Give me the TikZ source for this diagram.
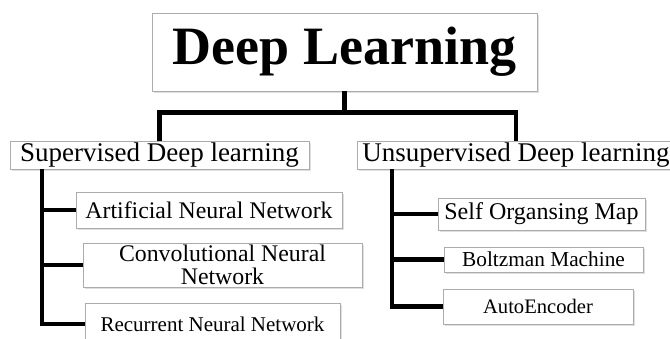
\documentclass[tikz,border=0pt]{standalone}
\usepackage{fontspec}
\setmainfont{Liberation Serif}
\usetikzlibrary{positioning,shadows}

\begin{document}
\begin{tikzpicture}[
  x=1pt,y=-1pt,
  box/.style={rectangle,draw=gray!65,line width=0.8pt,fill=white,inner sep=0pt,align=center,
    drop shadow={shadow xshift=1.5pt,shadow yshift=-2pt,opacity=0.25}},
  titlebox/.style={box,minimum width=385pt,minimum height=78pt,font=\fontsize{54}{54}\selectfont\bfseries},
  groupbox/.style={box,minimum height=28pt,font=\fontsize{27}{27}\selectfont},
  leafbox/.style={box,font=\fontsize{#1}{23}\selectfont},
  conn/.style={line width=4.5pt,black}
]
\useasboundingbox (0,0) rectangle (670,338);

% Root
\node[titlebox] (root) at (344.5,52) {Deep Learning};

% Groups
\node[groupbox,minimum width=299pt] (sup) at (159.5,155) {Supervised Deep learning};
\node[groupbox,minimum width=318pt] (unsup) at (516,155) {Unsupervised Deep learning};

% Supervised methods
\node[leafbox=23.8,minimum width=266pt,minimum height=36pt] (ann) at (209,210) {Artificial Neural Network};
\node[leafbox=23.8,minimum width=279pt,minimum height=44pt] (cnn) at (222.5,265) {Convolutional Neural\\Network};
\node[leafbox=21,minimum width=255pt,minimum height=42pt] (rnn) at (212.5,324) {Recurrent Neural Network};

% Unsupervised methods
\node[leafbox=24,minimum width=207pt,minimum height=32pt] (som) at (541.5,214) {Self Organsing Map};
\node[leafbox=21.3,minimum width=199pt,minimum height=25pt] (bm) at (543.5,259.5) {Boltzman Machine};
\node[leafbox=20.6,minimum width=190pt,minimum height=35pt] (ae) at (538,306.5) {AutoEncoder};

% Spines
\coordinate (lspine) at (42,169);
\coordinate (rspine) at (392,169);

% Connectors
\draw[conn] (root.south) -- ++(0,21) coordinate (bar);
\draw[conn] (sup.north) |- (bar) -| (unsup.north);
\draw[conn] (lspine) |- (rnn.west);
\draw[conn] (lspine |- ann.west) -- (ann.west);
\draw[conn] (lspine |- cnn.west) -- (cnn.west);
\draw[conn] (rspine) |- (ae.west);
\draw[conn] (rspine |- som.west) -- (som.west);
\draw[conn] (rspine |- bm.west) -- (bm.west);

\end{tikzpicture}
\end{document}
